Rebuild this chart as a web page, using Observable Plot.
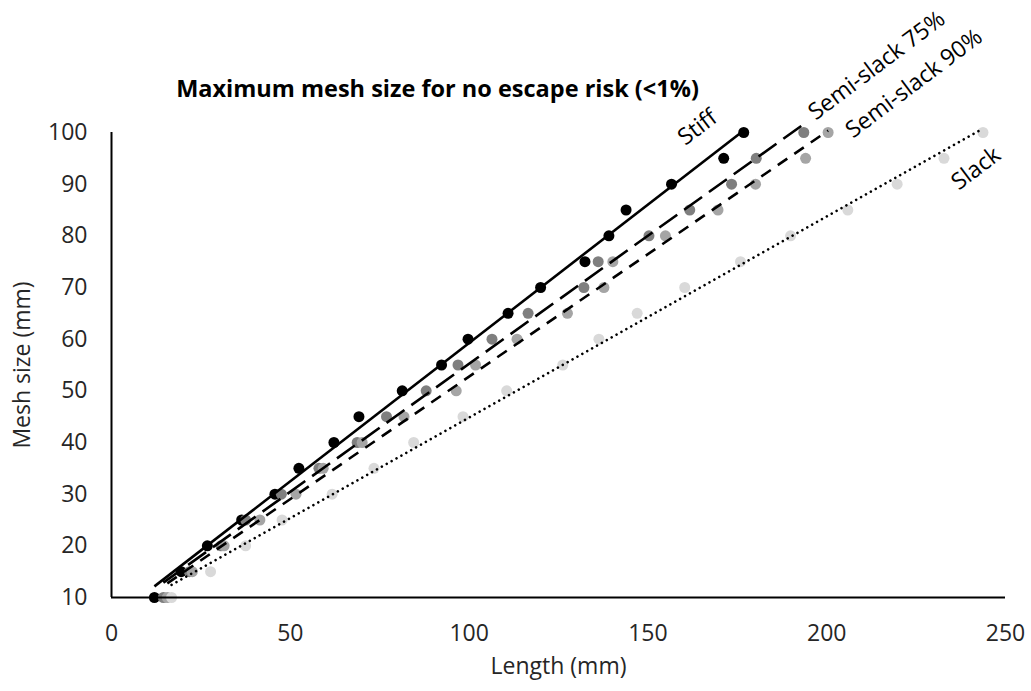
<!DOCTYPE html>
<html>
<head>
<meta charset="utf-8">
<script src="https://cdn.jsdelivr.net/npm/d3@7"></script>
<script src="https://cdn.jsdelivr.net/npm/@observablehq/plot@0.6"></script>
<style>
  body { margin: 0; background: #fff; }
  #wrap { position: relative; width: 1031px; height: 691px; font-family: "Open Sans", sans-serif; }
  #wrap svg { position: absolute; left: 0; top: 0; }
  #title { position: absolute; top: 74px; left: 0; width: 875px; text-align: center;
           font-weight: bold; font-size: 23.5px; line-height: 28px; color: #000; z-index: 2; }
</style>
</head>
<body>
<div id="wrap"></div>
<script>
const titleText = "Maximum mesh size for no escape risk (<1%)";
const xLabel = "Length (mm)";
const yLabel = "Mesh size (mm)";

const seriesNames = ["Stiff", "Semi-slack 75%", "Semi-slack 90%", "Slack"];
const meshSizes = [10, 15, 20, 25, 30, 35, 40, 45, 50, 55, 60, 65, 70, 75, 80, 85, 90, 95, 100];

const stiffLengths  = [12.0, 19.5, 26.8, 36.4, 45.7, 52.4, 62.2, 69.2, 81.3, 92.3, 99.7, 110.9, 120.0, 132.4, 139.1, 143.9, 156.6, 171.2, 176.8];
const semi75Lengths = [14.5, 21.8, 30.6, 37.5, 47.5, 58.0, 68.7, 76.9, 88.0, 96.9, 106.4, 116.5, 132.1, 136.1, 150.3, 161.7, 173.4, 180.3, 193.6];
const semi90Lengths = [15.6, 22.6, 31.5, 41.5, 51.6, 59.2, 70.1, 81.8, 96.4, 101.8, 113.4, 127.5, 137.7, 140.2, 154.9, 169.6, 180.1, 194.1, 200.4];
const slackLengths  = [16.8, 27.7, 37.5, 47.7, 61.7, 73.4, 84.5, 98.3, 110.5, 126.2, 136.3, 147.0, 160.3, 175.9, 189.9, 205.9, 219.7, 232.8, 243.7];

const xTicks = [0, 50, 100, 150, 200, 250];
const yTicks = [10, 20, 30, 40, 50, 60, 70, 80, 90, 100];

const lengthsBySeries = [stiffLengths, semi75Lengths, semi90Lengths, slackLengths];
const rows = seriesNames.flatMap((name, s) =>
  lengthsBySeries[s].map((len, i) => ({ series: name, length: len, mesh: meshSizes[i] })));

const dotColors = ["#000000", "#7f7f7f", "#a5a5a5", "#d9d9d9"];
const lineStyles = {
  "Stiff":          { strokeDasharray: null, strokeLinecap: "butt" },
  "Semi-slack 75%": { strokeDasharray: "22,8.5", strokeLinecap: "butt" },
  "Semi-slack 90%": { strokeDasharray: "11.5,8.5", strokeLinecap: "butt" },
  "Slack":          { strokeDasharray: "0.01,5.6", strokeLinecap: "round" }
};
const labelOffsets = {
  "Stiff":          { dx: -46, dy: -5 },
  "Semi-slack 75%": { dx: 73, dy: -67 },
  "Semi-slack 90%": { dx: 86, dy: -49 },
  "Slack":          { dx: -7, dy: 36 }
};

const lastPoints = seriesNames.map(name => {
  const pts = rows.filter(d => d.series === name);
  return pts[pts.length - 1];
});

const regressionMarks = seriesNames.map(name =>
  Plot.linearRegressionY(rows.filter(d => d.series === name), {
    x: "length", y: "mesh", ci: 0, stroke: "#000", strokeWidth: 2.6,
    ...(lineStyles[name].strokeDasharray ? { strokeDasharray: lineStyles[name].strokeDasharray } : {}),
    strokeLinecap: lineStyles[name].strokeLinecap
  }));

const labelMarks = seriesNames.map((name, s) =>
  Plot.text([lastPoints[s]], {
    x: "length", y: "mesh", text: "series", rotate: -37,
    dx: labelOffsets[name].dx, dy: labelOffsets[name].dy,
    fontSize: 23, fill: "#000", textAnchor: "middle", lineAnchor: "middle"
  }));

const chart = Plot.plot({
  width: 1031,
  height: 691,
  marginLeft: 111,
  marginRight: 26,
  marginTop: 132,
  marginBottom: 94,
  style: { fontFamily: "'Open Sans', sans-serif", color: "#000", background: "#fff", overflow: "visible" },
  x: { domain: [0, 250] },
  y: { domain: [10, 100] },
  color: { domain: seriesNames, range: dotColors },
  marks: [
    Plot.axisX({ ticks: xTicks, tickSize: 0, tickPadding: 27, fontSize: 23, fill: "#262626",
                 label: xLabel, labelAnchor: "center", labelArrow: "none", labelOffset: 76 }),
    Plot.axisY({ ticks: yTicks, tickSize: 0, tickPadding: 24, fontSize: 23, fill: "#262626",
                 label: yLabel, labelAnchor: "center", labelArrow: "none", labelOffset: 98 }),
    Plot.dot(rows, { x: "length", y: "mesh", fill: "series", r: 5.5, stroke: null }),
    Plot.ruleX([0], { y1: 10, y2: 100, stroke: "#000", strokeWidth: 2 }),
    Plot.ruleY([10], { stroke: "#000", strokeWidth: 2 }),
    ...regressionMarks,
    ...labelMarks
  ]
});

const wrap = document.getElementById("wrap");
wrap.appendChild(chart);
const title = document.createElement("div");
title.id = "title";
title.textContent = titleText;
wrap.appendChild(title);
</script>
</body>
</html>
